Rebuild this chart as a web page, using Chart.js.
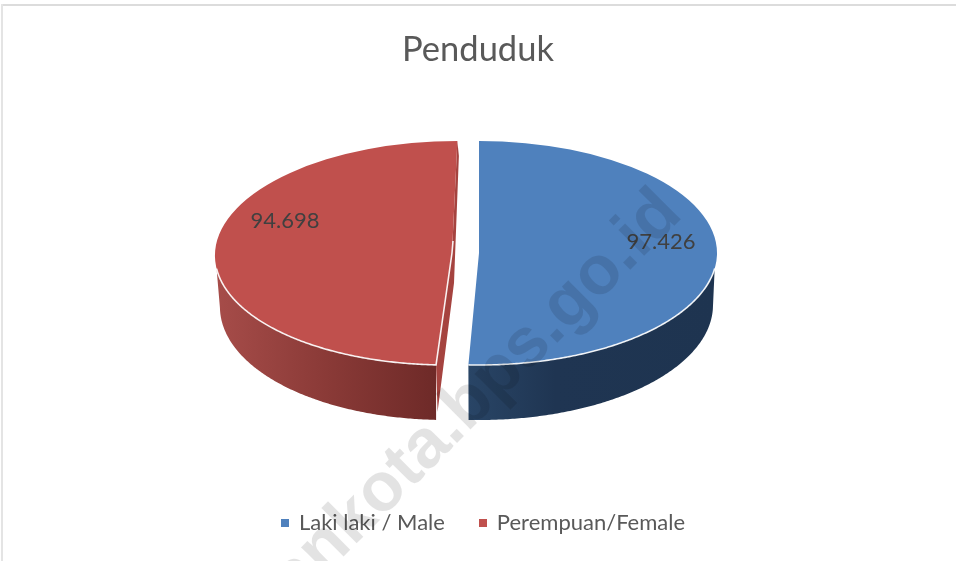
<!DOCTYPE html>
<html><head><meta charset="utf-8">
<style>html,body{margin:0;padding:0;background:#fff}canvas{display:block}</style>
<script src="https://cdn.jsdelivr.net/npm/chart.js@4"></script>
</head><body>
<canvas id="c" width="956" height="561"></canvas>
<script>
const categories = ['Laki laki / Male', 'Perempuan/Female'];
const populationValues = [97426, 94698];
const sliceColours = ['#4f81bd', '#c0504d'];
const chartTitle = 'Penduduk';
const watermarkText = 'lankota.bps.go.id';

const deg = Math.PI / 180;
// top face and bottom face ellipses of each exploded slice, drawn in a tilted view
const faces = [
  {top:{cx:479,cy:253,rx:238,ry:112,k:0}, bottom:{cx:479,cy:305,rx:234,ry:115,k:0},
   rimEnd:8*deg, baseEnd:2*deg, label:[182,-11],
   wall:[[0,'#294566'],[.35,'#1f3552'],[1,'#1e3450']], wallX:[468,717]},
  {top:{cx:452,cy:253,rx:237,ry:112,k:-.048}, bottom:{cx:452,cy:304,rx:232,ry:116,k:-.048},
   rimEnd:172*deg, baseEnd:178*deg, label:[-167,-32],
   wall:[[0,'#a64c49'],[.5,'#8a3a37'],[1,'#6e2a28']], wallX:[217,436]}
];
const pt = (g,a)=>[g.cx+g.rx*Math.cos(a)+g.k*g.ry*Math.sin(a), g.cy+g.ry*Math.sin(a)];
function trace(ctx,g,a0,a1){
  const n=160;
  for(let i=0;i<=n;i++){const p=pt(g,a0+(a1-a0)*i/n); ctx.lineTo(p[0],p[1]);}
}
const formatValue = v => String(v).replace(/\B(?=(\d{3})+$)/g,'.');
function marker(colour){
  const m=document.createElement('canvas'); m.width=8; m.height=8;
  const c=m.getContext('2d'); c.fillStyle=colour; c.fillRect(0,0,8,8);
  return m;
}

const tiltedPie = {
  id:'tiltedPie',
  afterLayout(chart){
    chart.legend.left+=6; chart.legend.right+=6;
  },
  beforeDraw(chart){
    const ctx=chart.ctx;
    ctx.save();
    ctx.fillStyle='#fff'; ctx.fillRect(0,0,956,561);
    ctx.fillStyle='#dcdcdc'; ctx.fillRect(1,4,955,2);
    ctx.fillStyle='#e4e4e4'; ctx.fillRect(1,4,2,557);
    ctx.restore();
  },
  beforeDatasetDraw(chart,args){
    const ctx=chart.ctx, meta=args.meta;
    // front angle of each slice: where it meets the viewer
    meta.data.forEach((el,i)=>{
      const f=faces[i], front = i===0 ? el.endAngle : el.startAngle;
      ctx.save();
      const grad=ctx.createLinearGradient(f.wallX[0],0,f.wallX[1],0);
      f.wall.forEach(s=>grad.addColorStop(s[0],s[1]));
      ctx.fillStyle=grad;
      ctx.beginPath();
      trace(ctx,f.top,front,f.rimEnd);
      trace(ctx,f.bottom,f.baseEnd,front);
      ctx.closePath(); ctx.fill();
      if(i===1){
        const T=pt(f.top,el.endAngle),B=pt(f.top,front),A=[f.top.cx,f.top.cy];
        ctx.fillStyle='#a5433f';
        ctx.beginPath();
        ctx.moveTo(T[0],T[1]);ctx.lineTo(A[0],A[1]);ctx.lineTo(B[0],B[1]);
        ctx.lineTo(B[0]+1.5,B[1]+47);ctx.lineTo(A[0]+2,A[1]+30);ctx.lineTo(T[0]+1.5,T[1]+15);
        ctx.closePath();ctx.fill();
      }
      // top face: the library's own arc, under the tilt transform
      const r=el.outerRadius, g=f.top, sx=g.rx/r, sy=g.ry/r;
      ctx.save();
      ctx.transform(sx,0,g.k*sy,sy,g.cx,g.cy);
      ctx.translate(-el.x,-el.y);
      el.draw(ctx);
      ctx.restore();
      // white bevel along the front edge
      ctx.strokeStyle='rgba(255,255,255,.9)'; ctx.lineWidth=1.6;
      ctx.beginPath();
      if(i===1){ctx.moveTo(g.cx+1,g.cy-12);ctx.lineTo(g.cx,g.cy);}
      trace(ctx,g,front,f.rimEnd);
      ctx.stroke();
      ctx.restore();
    });
    // value labels
    ctx.save();
    ctx.font='22px Lato'; ctx.fillStyle='#404040'; ctx.textAlign='center'; ctx.textBaseline='middle';
    meta.data.forEach((el,i)=>{
      const f=faces[i];
      ctx.fillText(formatValue(populationValues[i]), f.top.cx+f.label[0], f.top.cy+f.label[1]);
    });
    ctx.restore();
    return false;
  },
  afterDatasetsDraw(chart){
    const ctx=chart.ctx;
    ctx.save();
    ctx.translate(684,216);
    ctx.rotate(-45*deg);
    ctx.font='bold 69px "Liberation Sans"';
    ctx.fillStyle='rgba(0,0,0,.11)';
    ctx.textAlign='right';
    ctx.textBaseline='alphabetic';
    ctx.fillText(watermarkText,0,0);
    ctx.restore();
  }
};

new Chart(document.getElementById('c'),{
  type:'pie',
  data:{labels:categories,datasets:[{data:populationValues,backgroundColor:sliceColours,borderWidth:0}]},
  plugins:[tiltedPie],
  options:{
    responsive:false,animation:false,
    layout:{padding:{bottom:17}},
    plugins:{
      tooltip:{enabled:false},
      title:{display:true,text:chartTitle,color:'#595959',font:{family:'Lato',size:34.5,weight:'normal'},padding:{top:29,bottom:10}},
      legend:{position:'bottom',labels:{color:'#595959',font:{family:'Lato',size:22},usePointStyle:true,boxWidth:5,boxHeight:8,padding:36,
        generateLabels:(chart)=>Chart.overrides.doughnut.plugins.legend.labels.generateLabels(chart)
          .map((item,i)=>({...item,pointStyle:marker(sliceColours[i])}))}}
    }
  }
});
</script>
</body></html>
